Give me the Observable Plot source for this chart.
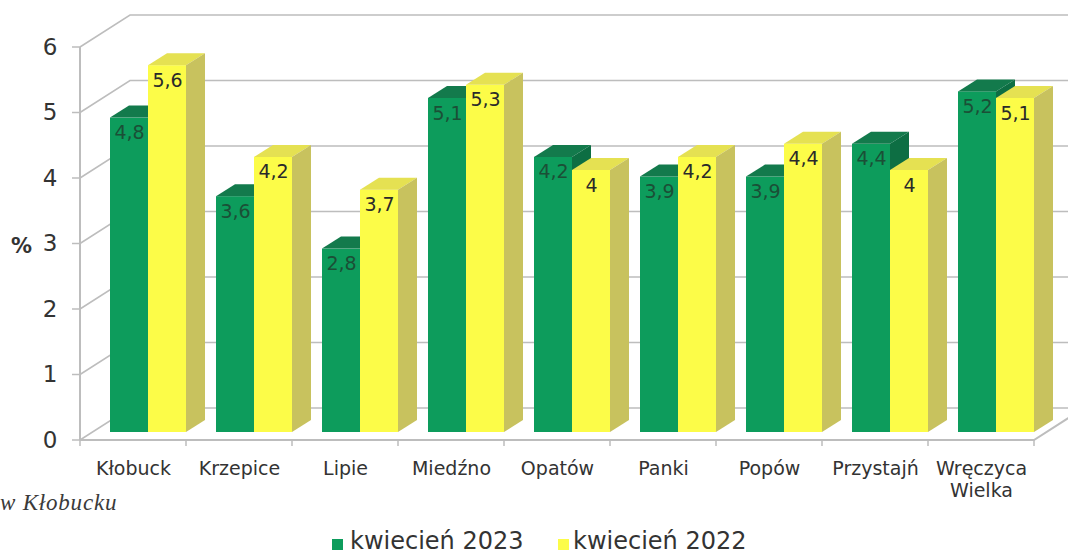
<!DOCTYPE html>
<html>
<head>
<meta charset="utf-8">
<script src="https://cdn.jsdelivr.net/npm/d3@7"></script>
<script src="https://cdn.jsdelivr.net/npm/@observablehq/plot@0.6"></script>
<style>
  html, body { margin: 0; padding: 0; background: #fff; overflow: hidden; }
  #wrap { position: relative; width: 1068px; height: 553px; }
  #caption { position: absolute; left: 0px; top: 492px; font: italic 23px "Liberation Serif", serif; letter-spacing: 0.8px; line-height: 22px; color: #3a3a3a; white-space: nowrap; }
  .lg-sw { position: absolute; width: 11px; height: 11px; top: 539px; }
  .lg-tx { position: absolute; top: 531px; font: 24px "DejaVu Sans", sans-serif; line-height: 20px; color: #333; white-space: nowrap; }
</style>
</head>
<body>
<div id="wrap"></div>
<script>
// ---- data ----
const categories = ["Kłobuck", "Krzepice", "Lipie", "Miedźno", "Opatów", "Panki", "Popów", "Przystajń", "Wręczyca Wielka"];
const values2023 = [4.8, 3.6, 2.8, 5.1, 4.2, 3.9, 3.9, 4.4, 5.2];
const values2022 = [5.6, 4.2, 3.7, 5.3, 4.0, 4.2, 4.4, 4.0, 5.1];
const seriesNames = ["kwiecień 2023", "kwiecień 2022"];
const yTicks = [0, 1, 2, 3, 4, 5, 6];
const captionText = "w Kłobucku";
const axisLabel = "%";

// ---- styles ----
const COL = {
  green: {front: "#0d9c5c", top: "#137a4c", side: "#0d6e43", label: "#1b4f36"},
  yellow: {front: "#fcfc48", top: "#e5e152", side: "#c8c25e", label: "#2a2a2a"}
};
const GRID = "#bdbdbd";
const WALL_DX = 50, WALL_DY = 32;   // depth of back wall
const BAR_DY = -8;                 // bars sit slightly behind front plane
const FACE_DX = 19, FACE_DY = 12;  // bar depth

const rows = (vals) => categories.map((c, i) => ({cat: c, value: vals[i]}));
const rows2023 = rows(values2023);
const rows2022 = rows(values2022);
const fmt = d => String(d.value).replace(".", ",");

function geom(x) {
  const x0 = x(categories[0]);
  const bw = x(categories[1]) - x(categories[0]);
  return {x0, bw, xEnd: x0 + bw * categories.length};
}

// back wall, floor, axis lines
const walls = (index, {x, y}) => {
  const {x0, bw, xEnd} = geom(x);
  const g = d3.create("svg:g").attr("fill", "none").attr("stroke", GRID).attr("stroke-width", 1.5);
  for (const t of yTicks) {
    const py = y(t);
    g.append("path").attr("d", `M${x0},${py}L${x0 + WALL_DX},${py - WALL_DY}H${xEnd + WALL_DX}`);
    g.append("path").attr("d", `M${x0 - 8},${py}H${x0}`);
  }
  g.append("path").attr("d", `M${x0},${y(yTicks[yTicks.length - 1])}V${y(0)}`).attr("stroke-width", 2);
  g.append("path").attr("d", `M${x0},${y(0)}H${xEnd}L${xEnd + WALL_DX},${y(0) - WALL_DY}`).attr("stroke-width", 2);
  for (let i = 0; i <= categories.length; i++) {
    const px = x0 + i * bw;
    g.append("path").attr("d", `M${px},${y(0)}V${y(0) + 6}`);
  }
  return g.node();
};

// top and side faces of 3D bars
const faces = (data, col, off0, off1) => (index, {x, y}) => {
  const g = d3.create("svg:g");
  data.forEach(d => {
    const xl = x(d.cat) + off0, xr = x(d.cat) + off1;
    const yt = y(d.value) + BAR_DY, yb = y(0) + BAR_DY;
    g.append("polygon")
      .attr("points", [[xl, yt], [xr, yt], [xr + FACE_DX, yt - FACE_DY], [xl + FACE_DX, yt - FACE_DY]].join(" "))
      .attr("fill", col.top);
    g.append("polygon")
      .attr("points", [[xr, yt], [xr + FACE_DX, yt - FACE_DY], [xr + FACE_DX, yb - FACE_DY], [xr, yb]].join(" "))
      .attr("fill", col.side);
  });
  return g.node();
};

const chart = Plot.plot({
  width: 1068,
  height: 500,
  marginLeft: 80,
  marginRight: 34,
  marginTop: 47,
  marginBottom: 60,
  style: {fontFamily: "DejaVu Sans, sans-serif", background: "transparent", overflow: "visible", color: "#333"},
  x: {type: "band", domain: categories, padding: 0, round: false},
  y: {domain: [0, 6], ticks: yTicks},
  marks: [
    walls,
    Plot.barY(rows2023, {x: "cat", y: "value", fill: COL.green.front, insetLeft: 30, insetRight: 38, dy: BAR_DY}),
    faces(rows2023, COL.green, 30, 68),
    Plot.barY(rows2022, {x: "cat", y: "value", fill: COL.yellow.front, insetLeft: 68, insetRight: 0, dy: BAR_DY}),
    faces(rows2022, COL.yellow, 68, 106),
    Plot.text(rows2023, {x: "cat", y: "value", text: fmt, dx: -4, dy: 7, fontSize: 19, fill: COL.green.label}),
    Plot.text(rows2022, {x: "cat", y: "value", text: fmt, dx: 34, dy: 7, fontSize: 19, fill: COL.yellow.label}),
    Plot.axisY({ticks: yTicks, tickFormat: d => String(d), tickSize: 0, tickPadding: 23, fontSize: 23, fill: "#333", label: null}),
    Plot.axisX({tickSize: 0, tickPadding: 19, fontSize: 19, fill: "#333", label: null, lineHeight: 1.15,
      tickFormat: d => d.replace(" ", "\n")}),
    Plot.text([axisLabel], {frameAnchor: "left", textAnchor: "middle", dx: -59, dy: 2, text: d => d, fontSize: 21, fontWeight: "bold", fill: "#333"})
  ]
});

const wrap = document.getElementById("wrap");
wrap.appendChild(chart);

const cap = document.createElement("div");
cap.id = "caption";
cap.textContent = captionText;
wrap.appendChild(cap);

const legendPos = [{sw: 332, tx: 350}, {sw: 558, tx: 573}];
const legendCol = [COL.green.front, COL.yellow.front];
seriesNames.forEach((name, i) => {
  const sw = document.createElement("div");
  sw.className = "lg-sw";
  sw.style.left = legendPos[i].sw + "px";
  sw.style.background = legendCol[i];
  wrap.appendChild(sw);
  const tx = document.createElement("div");
  tx.className = "lg-tx";
  tx.style.left = legendPos[i].tx + "px";
  tx.textContent = name;
  wrap.appendChild(tx);
});
</script>
</body>
</html>
